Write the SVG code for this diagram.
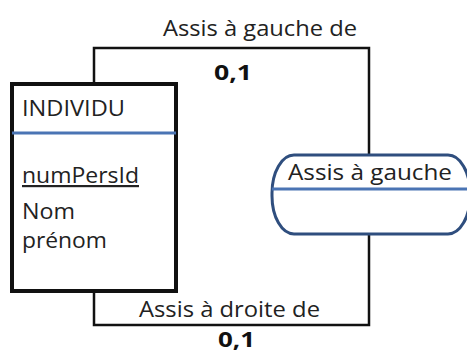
<svg xmlns="http://www.w3.org/2000/svg" width="467" height="353" viewBox="0 0 467 353">
<style>
text{font-family:"Open Sans","Liberation Sans",sans-serif;fill:#222;font-size:22px}
.b{font-weight:700;font-size:22px;fill:#111}
.conn{fill:none;stroke:#111;stroke-width:2.5}
.div{stroke:#4A74B4;stroke-width:3}
</style>
<rect width="467" height="353" fill="#fff"/>
<g id="connectors">
<polyline class="conn" points="94,84 94,48 369,48 369,155"/>
<polyline class="conn" points="94,291 94,325 369,325 369,234"/>
<text x="163" y="36" textLength="194" lengthAdjust="spacingAndGlyphs">Assis à gauche de</text>
<text class="b" x="214" y="80" textLength="38" lengthAdjust="spacingAndGlyphs">0,1</text>
<text x="139" y="317" textLength="181" lengthAdjust="spacingAndGlyphs">Assis à droite de</text>
<text class="b" x="218" y="347" textLength="37" lengthAdjust="spacingAndGlyphs">0,1</text>
</g>
<g id="individu">
<rect x="12" y="84" width="164" height="207" fill="#fff" stroke="#111" stroke-width="4"/>
<line class="div" x1="12" y1="133" x2="176" y2="133"/>
<text x="22" y="116" textLength="103" lengthAdjust="spacingAndGlyphs">INDIVIDU</text>
<text x="22" y="183" textLength="117" lengthAdjust="spacingAndGlyphs" text-decoration="underline">numPersId</text>
<text x="22" y="219" textLength="53" lengthAdjust="spacingAndGlyphs">Nom</text>
<text x="22" y="248" textLength="85" lengthAdjust="spacingAndGlyphs">prénom</text>
</g>
<g id="assis_a_gauche">
<rect x="272" y="155" width="198" height="79" rx="22" ry="38" fill="#fff" stroke="#2F4E7E" stroke-width="3"/>
<line class="div" x1="272" y1="189" x2="467" y2="189"/>
<text x="288" y="180" textLength="164" lengthAdjust="spacingAndGlyphs">Assis à gauche</text>
</g>
</svg>
